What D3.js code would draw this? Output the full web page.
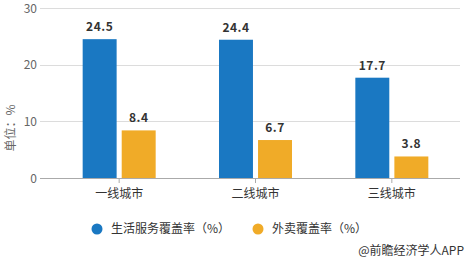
<!DOCTYPE html>
<html>
<head>
<meta charset="utf-8">
<script src="https://cdn.jsdelivr.net/npm/d3@7"></script>
<style>
  body { margin: 0; background: #fff; }
  svg { font-family: "Microsoft YaHei", "Noto Sans CJK SC", sans-serif; }
</style>
</head>
<body>
<svg class="chart"></svg>
<script>
const categories = ["一线城市", "二线城市", "三线城市"];
const seriesNames = ["生活服务覆盖率（%）", "外卖覆盖率（%）"];
const lifeService = [24.5, 24.4, 17.7];
const takeaway = [8.4, 6.7, 3.8];
const yTicks = [0, 10, 20, 30];

const width = 470;
const height = 263;
const colors = ["#1a78c2", "#f0ab28"];

const svg = d3.select('.chart')
    .attr('width', width)
    .attr('height', height);

const x = d3.scaleBand()
    .domain(categories)
    .range([51, 460]);

const sub = d3.scaleBand()
    .domain([0, 1])
    .range([0, 73])
    .paddingInner(0.13);

const y = d3.scaleLinear()
    .domain([0, 30])
    .range([178, 8]);

// gridlines
svg.append("g")
    .selectAll("line")
    .data(yTicks.slice(1))
    .enter().append("line")
    .attr("x1", 40)
    .attr("x2", 460)
    .attr("y1", d => Math.round(y(d)) + 0.5)
    .attr("y2", d => Math.round(y(d)) + 0.5)
    .attr("stroke", "#dcdcdc")
    .attr("stroke-width", 1);

// y tick labels
svg.append("g")
    .selectAll("text")
    .data(yTicks)
    .enter().append("text")
    .attr("x", 37)
    .attr("y", d => y(d) + 4.5)
    .attr("text-anchor", "end")
    .attr("fill", "#666")
    .style("font-size", "12px")
    .text(d => d);

svg.append("text")
    .attr("transform", "translate(15,128) rotate(-90)")
    .attr("text-anchor", "middle")
    .attr("fill", "#666")
    .style("font-size", "12px")
    .text("单位：%");

const series = [lifeService, takeaway];
const groups = svg.selectAll(".group")
    .data(categories)
    .enter().append("g")
    .attr("class", "group")
    .attr("transform", d => `translate(${x(d) + x.bandwidth() / 2 - 36.5},0)`);

groups.each(function(cat, i) {
    const g = d3.select(this);
    series.forEach((vals, s) => {
        g.append("rect")
            .attr("x", sub(s))
            .attr("y", y(vals[i]))
            .attr("width", sub.bandwidth())
            .attr("height", y(0) - y(vals[i]))
            .attr("fill", colors[s]);
        g.append("text")
            .attr("x", sub(s) + sub.bandwidth() / 2)
            .attr("y", y(vals[i]) - 8)
            .attr("text-anchor", "middle")
            .attr("fill", "#333")
            .style("font-size", "12px")
            .style("font-weight", "bold")
            .style("letter-spacing", "0.5px")
            .text(vals[i].toFixed(1));
    });
});

// x axis
const xAxis = svg.append("g");
xAxis.append("line")
    .attr("x1", 40).attr("x2", 460)
    .attr("y1", 178.5).attr("y2", 178.5)
    .attr("stroke", "#aaa");
xAxis.selectAll(".tick")
    .data(categories)
    .enter().append("line")
    .attr("x1", d => x(d) + x.bandwidth() / 2)
    .attr("x2", d => x(d) + x.bandwidth() / 2)
    .attr("y1", 178).attr("y2", 183)
    .attr("stroke", "#aaa");
xAxis.selectAll(".lbl")
    .data(categories)
    .enter().append("text")
    .attr("x", d => x(d) + x.bandwidth() / 2)
    .attr("y", 194)
    .attr("dy", "0.35em")
    .attr("text-anchor", "middle")
    .attr("fill", "#333")
    .style("font-size", "12px")
    .text(d => d);

// legend
const legendX = [97, 258];
const legend = svg.selectAll(".legend")
    .data(seriesNames)
    .enter().append("g")
    .attr("class", "legend")
    .attr("transform", (d, i) => `translate(${legendX[i]},229)`);

legend.append("circle")
    .attr("r", 5.5)
    .attr("fill", (d, i) => colors[i]);

legend.append("text")
    .attr("x", 14)
    .attr("dy", "0.35em")
    .attr("fill", "#333")
    .style("font-size", "12px")
    .text(d => d);

svg.append("text")
    .attr("x", 464)
    .attr("y", 251)
    .attr("dy", "0.35em")
    .attr("text-anchor", "end")
    .attr("fill", "#333")
    .style("font-size", "12px")
    .text("@前瞻经济学人APP");
</script>
</body>
</html>
